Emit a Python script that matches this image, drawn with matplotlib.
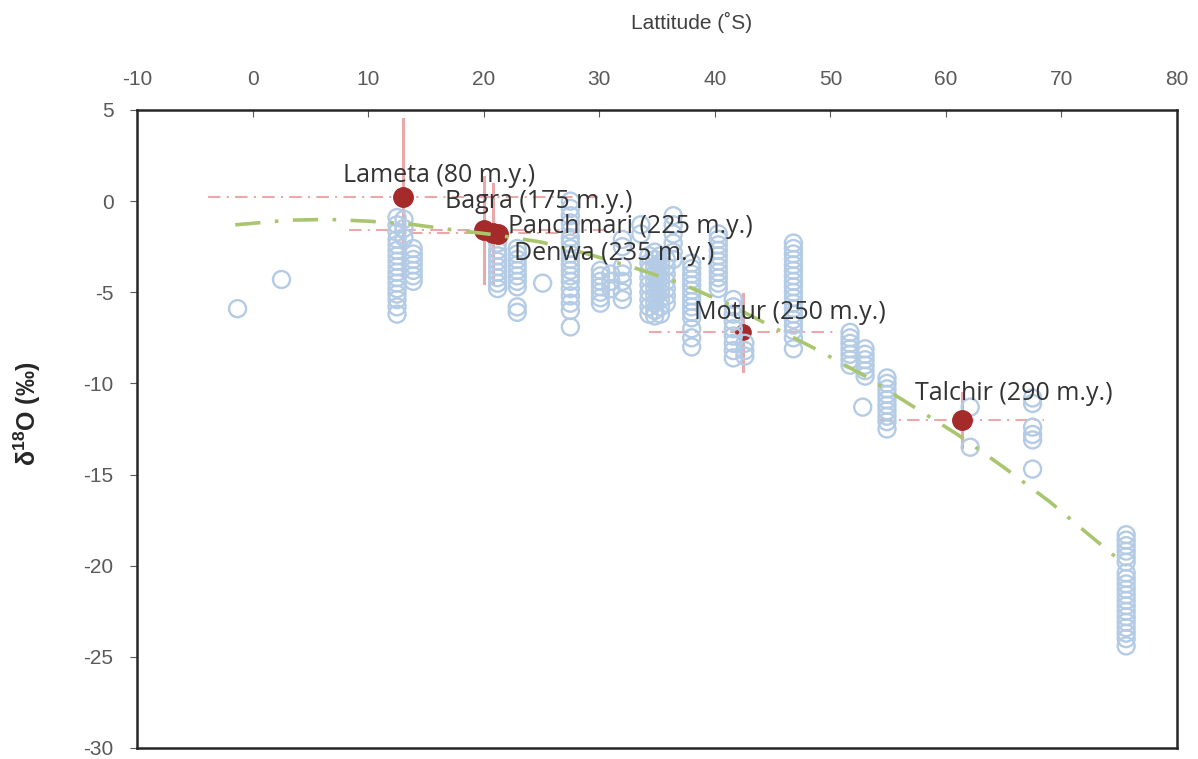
import numpy as np
import matplotlib.pyplot as plt

plt.rcParams['font.family'] = ['Liberation Sans', 'DejaVu Sans']
plt.rcParams['axes.unicode_minus'] = False
plt.rcParams['mathtext.fontset'] = 'custom'
plt.rcParams['mathtext.rm'] = 'Liberation Sans'
plt.rcParams['mathtext.bf'] = 'Liberation Sans:bold'

# carbonate samples: one latitude per column, d18O values measured there
col_lat = [-1.3, 2.5, 12.5, 13.1, 13.9, 21.2, 22.9, 25.1, 27.5, 30.1, 31.0, 32.0,
           33.6, 34.3, 34.8, 35.3, 35.8, 36.4, 38.0, 40.3, 41.6, 42.6, 46.8,
           51.7, 52.8, 53.0, 54.9, 62.1, 67.5, 75.6]
col_d18o = [
    [-5.9],
    [-4.3],
    [-0.9, -1.3, -1.7, -2.1, -2.4, -2.7, -3.0, -3.3, -3.6, -3.9, -4.2, -4.5,
     -4.8, -5.1, -5.4, -5.8, -6.2],
    [-1.0, -1.5, -2.0],
    [-2.6, -2.9, -3.2, -3.5, -3.8, -4.1, -4.4],
    [-2.3, -2.7, -3.0, -3.3, -3.6, -3.9, -4.2, -4.5, -4.8],
    [-2.6, -2.9, -3.2, -3.5, -3.8, -4.1, -4.4, -4.7, -5.8, -6.1],
    [-4.5],
    [0.0, -0.4, -0.8, -1.2, -1.6, -2.0, -2.3, -2.6, -2.9, -3.2, -3.5, -3.8,
     -4.1, -4.4, -4.8, -5.2, -5.6, -6.0, -6.9],
    [-3.8, -4.1, -4.4, -4.7, -5.0, -5.3, -5.6],
    [-4.0, -4.4, -4.8],
    [-2.1, -2.5, -3.6, -4.0, -4.4, -5.0, -5.4],
    [-1.3, -1.8],
    [-3.0, -3.4, -3.8, -4.2, -4.6, -5.0, -5.4, -5.8, -6.2],
    [-2.8, -3.2, -3.6, -4.0, -4.4, -4.8, -5.2, -5.6, -6.0, -6.3],
    [-3.0, -3.4, -3.8, -4.2, -4.6, -5.0, -5.4, -5.8, -6.2],
    [-3.2, -3.6, -4.0, -4.4, -4.8, -5.2, -5.6],
    [-0.8, -1.3, -1.8, -2.3, -2.8, -3.2],
    [-3.4, -3.7, -4.0, -4.3, -4.6, -4.9, -5.2, -5.5, -5.8, -6.1, -6.4, -7.0,
     -7.5, -8.0],
    [-1.8, -2.1, -2.4, -2.7, -3.0, -3.3, -3.6, -3.9, -4.2, -4.5, -4.8],
    [-5.4, -5.8, -6.2, -6.6, -7.0, -7.4, -7.8, -8.2, -8.6],
    [-7.8, -8.2, -8.5],
    [-2.3, -2.6, -2.9, -3.2, -3.5, -3.8, -4.1, -4.4, -4.7, -5.0, -5.3, -5.6,
     -5.9, -6.2, -6.5, -6.8, -7.1, -7.5, -8.1],
    [-7.2, -7.5, -7.8, -8.1, -8.4, -8.7, -9.0],
    [-11.3],
    [-8.1, -8.4, -8.7, -9.0, -9.3, -9.6],
    [-9.7, -10.0, -10.3, -10.6, -10.9, -11.2, -11.5, -11.8, -12.1, -12.5],
    [-11.3, -13.5],
    [-10.8, -11.1, -12.4, -12.8, -13.1, -14.7],
    [-18.3, -18.6, -18.9, -19.2, -19.5, -19.8, -20.4, -20.7, -21.0, -21.3,
     -21.6, -21.9, -22.2, -22.5, -22.8, -23.1, -23.4, -23.7, -24.0, -24.4],
]

# Indian formations with their paleolatitude / d18O spread
form_names = ['Lameta (80 m.y.)', 'Bagra (175 m.y.)', 'Panchmari (225 m.y.)',
              'Denwa (235 m.y.)', 'Motur (250 m.y.)', 'Talchir (290 m.y.)']
form_lat = [13.0, 20.0, 20.8, 21.2, 42.4, 61.4]
form_d18o = [0.2, -1.6, -1.75, -1.8, -7.2, -12.0]
form_lat_err = [16.9, 11.7, 7.2, 0.0, 8.1, 7.1]
form_d18o_err = [4.3, 2.9, 2.7, 0.0, 2.1, 1.5]

# latitudinal trend curve
trend_lat = [-1.5, 3, 6.5, 10, 13.5, 17, 21, 25, 29, 33, 37, 41, 45, 49, 53,
             57, 61, 65, 69, 72, 75.6]
trend_d18o = [-1.3, -1.05, -1.0, -1.1, -1.25, -1.55, -1.85, -2.25, -2.9, -3.65,
              -4.5, -5.6, -6.9, -8.2, -9.6, -11.2, -12.8, -14.6, -16.5, -18.1,
              -20.0]

# label offsets (points) from each formation marker
label_offsets = [(-43, 16), (-28, 21), (11, 5), (11.5, -14), (-35, 14), (-34, 19)]

fig = plt.figure(figsize=(11.98, 7.59), dpi=100)
ax = fig.add_axes([0.1144, 0.0145, 0.8681, 0.8406])

xs = np.concatenate([[lat] * len(v) for lat, v in zip(col_lat, col_d18o)])
ys = np.concatenate(col_d18o)
ax.scatter(xs, ys, s=150, facecolors='none', edgecolors='#B4CBE6',
           linewidths=1.7, zorder=3)

pink = '#EBA8A8'
for i, name in enumerate(form_names):
    x, y = form_lat[i], form_d18o[i]
    if form_d18o_err[i] > 0:
        ax.plot([x, x], [y - form_d18o_err[i], y + form_d18o_err[i]],
                color=pink, lw=2.2, zorder=2.5)
    if form_lat_err[i] > 0:
        ax.plot([x - form_lat_err[i], x + form_lat_err[i]], [y, y],
                color=pink, lw=1.5, ls=(0, (6, 3, 1, 3)), zorder=2.5)
    z = 2.8 if name.startswith('Motur') else 4
    ms = 11 if name.startswith('Motur') else 14
    ax.plot(x, y, 'o', color='#A52A2A', ms=ms, mec='#A52A2A', zorder=z)
    ax.annotate(name, (x, y), xytext=label_offsets[i], textcoords='offset points',
                ha='left', va='center', fontsize=18, color='#333333',
                family=['Open Sans', 'DejaVu Sans'], zorder=6)

ax.plot(trend_lat, trend_d18o, color='#A9C66F', lw=2.6,
        ls=(0, (7, 4, 1, 4)), zorder=5)

ax.set_xlim(-10, 80)
ax.set_ylim(-30, 5)
ax.set_xticks(range(-10, 81, 10))
ax.set_yticks(range(-30, 6, 5))
ax.xaxis.tick_top()
ax.tick_params(axis='x', direction='in', length=5, pad=15, labelsize=15,
               colors='#595959', top=True, bottom=False)
ax.tick_params(axis='y', direction='out', length=5, pad=12, labelsize=15,
               colors='#595959')
for sp in ax.spines.values():
    sp.set_color('#262626')
    sp.set_linewidth(1.8)

fig.text(0.577, 0.971, 'Lattitude (˚S)', ha='center', va='center',
         fontsize=15, color='#404040')
fig.text(0.023, 0.455, r'$\mathbf{\delta^{18}}$O (‰)', ha='center', va='center',
         rotation=90, fontsize=18, fontweight='bold', color='#262626')

fig.savefig('out.png', dpi=100)
